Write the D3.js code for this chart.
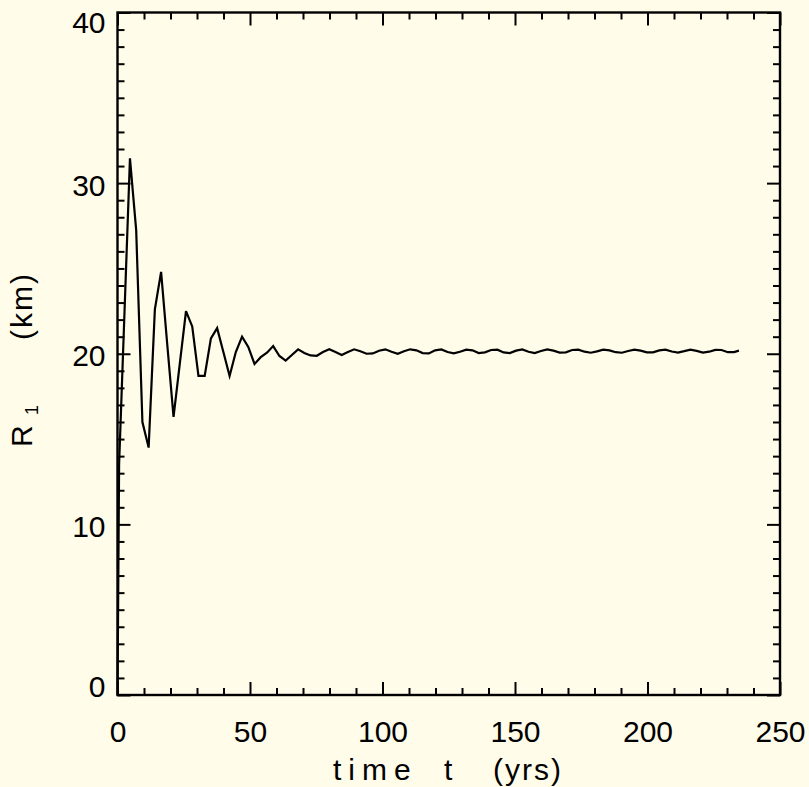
<!DOCTYPE html>
<html>
<head>
<meta charset="utf-8">
<script src="https://cdn.jsdelivr.net/npm/d3@7"></script>
<style>
  body { margin: 0; background: #fffce9; }
  svg { display: block; }
</style>
</head>
<body>
<script>
var w = 809;
var h = 787;

// time (yrs) and radius R1 (km)
var years = [0, 0.6, 4.7, 7.05, 9.4, 11.75, 14.1, 16.45, 18.8, 21.15,
    23.5, 25.85, 28.2, 30.55, 32.9, 35.25, 37.6, 39.95, 42.3, 44.65,
    47.0, 49.35, 51.7, 54.05, 56.4, 58.75, 61.1, 63.45, 65.8, 68.15,
    70.5, 72.85, 75.2, 77.55, 79.9, 82.25, 84.6, 86.95, 89.3, 91.65,
    94.0, 96.35, 98.7, 101.05, 103.4, 105.75, 108.1, 110.45, 112.8, 115.15,
    117.5, 119.85, 122.2, 124.55, 126.9, 129.25, 131.6, 133.95, 136.3, 138.65,
    141.0, 143.35, 145.7, 148.05, 150.4, 152.75, 155.1, 157.45, 159.8, 162.15,
    164.5, 166.85, 169.2, 171.55, 173.9, 176.25, 178.6, 180.95, 183.3, 185.65,
    188.0, 190.35, 192.7, 195.05, 197.4, 199.75, 202.1, 204.45, 206.8, 209.15,
    211.5, 213.85, 216.2, 218.55, 220.9, 223.25, 225.6, 227.95, 230.3, 232.65,
    234.5];
var radius = [0, 13.5, 31.45, 27.25, 16.0, 14.5, 22.6, 24.8, 20.5, 16.3,
    19.4, 22.5, 21.6, 18.7, 18.7, 20.9, 21.5, 20.1, 18.7, 20.1,
    21.0, 20.4, 19.4, 19.8, 20.06, 20.45, 19.87, 19.6, 19.93, 20.26,
    20.05, 19.9, 19.88, 20.1, 20.26, 20.1, 19.93, 20.1, 20.26, 20.15,
    20.0, 20.02, 20.18, 20.26, 20.12, 20.0, 20.15, 20.26, 20.2, 20.04,
    20.02, 20.2, 20.25, 20.1, 20.02, 20.12, 20.24, 20.2, 20.04, 20.08,
    20.22, 20.24, 20.08, 20.04, 20.18, 20.25, 20.12, 20.04, 20.16, 20.25,
    20.18, 20.07, 20.08, 20.22, 20.24, 20.12, 20.06, 20.14, 20.24, 20.2,
    20.09, 20.06, 20.16, 20.24, 20.18, 20.08, 20.08, 20.2, 20.24, 20.13,
    20.07, 20.15, 20.24, 20.17, 20.07, 20.12, 20.23, 20.22, 20.09, 20.1,
    20.18];

var xMajor = [0, 50, 100, 150, 200, 250];
var xMinor = [10, 20, 30, 40, 60, 70, 80, 90, 110, 120, 130, 140, 160, 170, 180, 190, 210, 220, 230, 240];
var yMajor = [0, 10, 20, 30, 40];
var yMinor = [];
for (var v = 1; v < 40; v++) { if (v % 10 != 0) yMinor.push(v); }

var xScale = d3.scaleLinear().domain([0, 250]).range([117.5, 780]);
var yScale = d3.scaleLinear().domain([0, 40]).range([695, 12.5]);

var svg = d3.select("body")
    .append("svg")
    .attr("width", w)
    .attr("height", h);

svg.append("rect")
    .attr("width", w)
    .attr("height", h)
    .attr("fill", "#fffce9");

var x0 = xScale.range()[0], x1 = xScale.range()[1];
var y0 = yScale.range()[0], y1 = yScale.range()[1];

//ticks point inward on all four sides
function addAxis(axis, tx, ty) {
    var g = svg.append("g")
        .attr("transform", "translate(" + tx + "," + ty + ")")
        .call(axis);
    g.select(".domain").remove();
    g.selectAll("line").attr("stroke", "#000").attr("stroke-width", 2);
    return g;
}

addAxis(d3.axisBottom(xScale).tickValues(xMinor).tickSize(-7).tickFormat(""), 0, y0);
addAxis(d3.axisTop(xScale).tickValues(xMinor).tickSize(-7).tickFormat(""), 0, y1);
addAxis(d3.axisTop(xScale).tickValues(xMajor).tickSize(-13).tickFormat(""), 0, y1);
addAxis(d3.axisLeft(yScale).tickValues(yMinor).tickSize(-7).tickFormat(""), x0, 0);
addAxis(d3.axisRight(yScale).tickValues(yMinor).tickSize(-7).tickFormat(""), x1, 0);
addAxis(d3.axisRight(yScale).tickValues(yMajor).tickSize(-13).tickFormat(""), x1, 0);

var xg = addAxis(d3.axisBottom(xScale).tickValues(xMajor).tickSize(-13).tickPadding(0), 0, y0);
xg.selectAll("text")
    .attr("y", 47)
    .attr("dy", 0)
    .attr("font-family", "'Liberation Sans', Arial, sans-serif")
    .attr("font-size", 30)
    .attr("fill", "#000");

var yg = addAxis(d3.axisLeft(yScale).tickValues(yMajor).tickSize(-13).tickPadding(0), x0, 0);
yg.selectAll("text")
    .attr("x", -12)
    .attr("dy", function (d) {
        if (d == 0) return 1;
        if (d == 40) return 20;
        return 12;
    })
    .attr("font-family", "'Liberation Sans', Arial, sans-serif")
    .attr("font-size", 30)
    .attr("fill", "#000");

//frame
svg.append("rect")
    .attr("x", x0)
    .attr("y", y1)
    .attr("width", x1 - x0)
    .attr("height", y0 - y1)
    .attr("fill", "none")
    .attr("stroke", "#000")
    .attr("stroke-width", 2.4);

//the curve
var line = d3.line()
    .x(function (d, i) { return xScale(years[i]); })
    .y(function (d) { return yScale(d); });

svg.append("path")
    .datum(radius)
    .attr("d", line)
    .attr("fill", "none")
    .attr("stroke", "#000")
    .attr("stroke-width", 2.2)
    .attr("stroke-linejoin", "miter");

//axis titles
var xt = svg.append("text")
    .attr("y", 780)
    .attr("font-family", "'Liberation Sans', Arial, sans-serif")
    .attr("font-size", 30)
    .attr("fill", "#000");
xt.append("tspan").attr("x", 333).attr("letter-spacing", 7).text("time");
xt.append("tspan").attr("x", 444).text("t");
xt.append("tspan").attr("x", 493).attr("letter-spacing", 2).text("(yrs)");

var yt = svg.append("text")
    .attr("transform", "translate(32,0) rotate(-90)")
    .attr("font-family", "'Liberation Sans', Arial, sans-serif")
    .attr("font-size", 30)
    .attr("fill", "#000");
yt.append("tspan").attr("x", -447).attr("y", 0).text("R");
yt.append("tspan").attr("x", -415).attr("y", 6).attr("font-size", 18).text("1");
yt.append("tspan").attr("x", -340).attr("y", 0).attr("letter-spacing", 2).text("(km)");
</script>
</body>
</html>
